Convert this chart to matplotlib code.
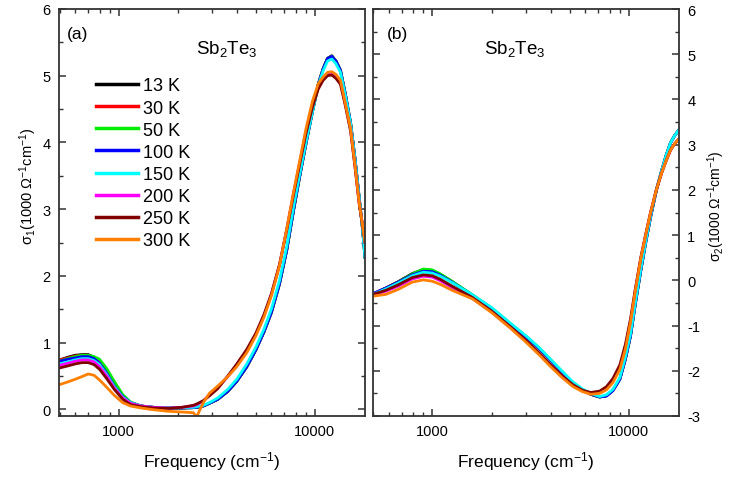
import matplotlib
matplotlib.use('Agg')
import matplotlib.pyplot as plt
from matplotlib.ticker import FixedLocator, FixedFormatter, NullFormatter, MultipleLocator

plt.rcParams['font.family'] = ['Liberation Sans', 'DejaVu Sans']
plt.rcParams['mathtext.default'] = 'regular'
plt.rcParams['axes.unicode_minus'] = False

temps = ['13 K', '30 K', '50 K', '100 K', '150 K', '200 K', '250 K', '300 K']
colors = ['#000000', '#ff0000', '#00ee00', '#0000ff', '#00ffff', '#ff00ff', '#800000', '#ff8000']

# (a) sigma_1 in 1000 Ohm^-1 cm^-1
freq_a = [500, 550, 600, 650, 700, 750, 800, 870, 950, 1050, 1150, 1300, 1500, 1800,
          2100, 2400, 2500, 2700, 2900, 3200, 3600, 4000, 4500, 5000, 5500, 6000, 6600,
          7200, 7800, 8400, 9000, 9700, 10400, 11000, 11600, 12200, 12800, 13500, 14300,
          15200, 16000, 16800, 17500, 18000]
s1_13 = [0.74, 0.78, 0.81, 0.82, 0.82, 0.78, 0.71, 0.56, 0.37, 0.20, 0.10, 0.05, 0.03, 0.02,
         0.02, 0.025, 0.03, 0.05, 0.09, 0.15, 0.27, 0.42, 0.64, 0.89, 1.16, 1.45, 1.88,
         2.40, 3.00, 3.52, 3.98, 4.45, 4.87, 5.10, 5.26, 5.30, 5.22, 5.08, 4.72,
         4.29, 3.76, 3.18, 2.70, 2.28]
s1_30 = [0.74, 0.77, 0.80, 0.81, 0.81, 0.77, 0.70, 0.55, 0.36, 0.19, 0.10, 0.05, 0.03, 0.02,
         0.02, 0.025, 0.03, 0.05, 0.09, 0.15, 0.27, 0.42, 0.64, 0.89, 1.16, 1.45, 1.88,
         2.40, 3.00, 3.52, 3.98, 4.45, 4.87, 5.10, 5.26, 5.29, 5.22, 5.08, 4.72,
         4.29, 3.76, 3.18, 2.70, 2.28]
s1_50 = [0.72, 0.76, 0.79, 0.81, 0.81, 0.79, 0.75, 0.61, 0.42, 0.22, 0.11, 0.05, 0.03, 0.02,
         0.02, 0.025, 0.03, 0.05, 0.09, 0.15, 0.27, 0.42, 0.64, 0.89, 1.16, 1.45, 1.88,
         2.40, 3.00, 3.52, 3.98, 4.45, 4.87, 5.10, 5.26, 5.29, 5.22, 5.08, 4.72,
         4.29, 3.76, 3.18, 2.70, 2.28]
s1_100 = [0.72, 0.75, 0.77, 0.79, 0.79, 0.76, 0.69, 0.54, 0.35, 0.19, 0.10, 0.05, 0.03, 0.02,
          0.02, 0.025, 0.03, 0.05, 0.09, 0.15, 0.27, 0.42, 0.64, 0.89, 1.16, 1.45, 1.88,
          2.40, 3.00, 3.52, 3.98, 4.45, 4.87, 5.10, 5.26, 5.29, 5.22, 5.08, 4.72,
          4.29, 3.76, 3.18, 2.70, 2.28]
s1_150 = [0.68, 0.71, 0.74, 0.76, 0.76, 0.73, 0.67, 0.52, 0.34, 0.18, 0.10, 0.05, 0.03, 0.025,
          0.025, 0.03, 0.04, 0.06, 0.10, 0.17, 0.30, 0.45, 0.68, 0.93, 1.20, 1.50, 1.93,
          2.45, 3.05, 3.55, 4.00, 4.45, 4.85, 5.07, 5.22, 5.25, 5.18, 5.05, 4.70,
          4.28, 3.75, 3.18, 2.70, 2.28]
s1_200 = [0.66, 0.69, 0.72, 0.74, 0.74, 0.71, 0.64, 0.50, 0.32, 0.17, 0.09, 0.05, 0.03, 0.02,
          0.03, 0.05, 0.07, 0.12, 0.22, 0.33, 0.49, 0.66, 0.88, 1.12, 1.40, 1.72, 2.16,
          2.71, 3.25, 3.72, 4.16, 4.56, 4.84, 4.96, 5.03, 5.04, 5.00, 4.90, 4.57,
          4.19, 3.65, 3.10, 2.76, 2.50]
s1_250 = [0.62, 0.65, 0.68, 0.70, 0.70, 0.67, 0.60, 0.46, 0.30, 0.15, 0.07, 0.04, 0.02, 0.015,
          0.03, 0.06, 0.08, 0.13, 0.20, 0.31, 0.50, 0.68, 0.90, 1.14, 1.42, 1.73, 2.17,
          2.70, 3.23, 3.70, 4.13, 4.52, 4.80, 4.93, 5.00, 5.01, 4.96, 4.87, 4.55,
          4.17, 3.64, 3.09, 2.75, 2.50]
s1_300 = [0.37, 0.41, 0.45, 0.49, 0.53, 0.51, 0.44, 0.33, 0.21, 0.10, 0.05, 0.02, -0.005, -0.03,
          -0.04, -0.05, -0.11, 0.10, 0.24, 0.35, 0.49, 0.64, 0.85, 1.10, 1.38, 1.70, 2.15,
          2.72, 3.27, 3.75, 4.20, 4.61, 4.88, 4.98, 5.05, 5.06, 5.02, 4.93, 4.58,
          4.20, 3.66, 3.10, 2.76, 2.50]

# (b) sigma_2 in 1000 Ohm^-1 cm^-1
freq_b = [500, 580, 670, 790, 900, 1000, 1100, 1260, 1600, 2000, 2500, 3000, 3500, 4000,
          4600, 5200, 5800, 6400, 7100, 7700, 8300, 9000, 9600, 10200, 10800, 11500,
          12200, 12900, 13800, 14700, 15500, 16300, 17100, 18000]
s2_13 = [-0.30, -0.17, -0.03, 0.15, 0.24, 0.22, 0.13, -0.03, -0.33, -0.62, -0.97, -1.25, -1.51, -1.77,
         -2.04, -2.27, -2.42, -2.52, -2.58, -2.55, -2.43, -2.18, -1.74, -1.22, -0.50, 0.22,
         0.85, 1.40, 1.99, 2.43, 2.77, 3.04, 3.20, 3.33]
s2_30 = [-0.30, -0.17, -0.04, 0.13, 0.22, 0.21, 0.12, -0.04, -0.33, -0.62, -0.97, -1.25, -1.51, -1.77,
         -2.04, -2.27, -2.42, -2.52, -2.58, -2.55, -2.43, -2.18, -1.74, -1.22, -0.50, 0.22,
         0.85, 1.40, 1.99, 2.43, 2.77, 3.04, 3.20, 3.33]
s2_50 = [-0.31, -0.18, -0.04, 0.14, 0.25, 0.23, 0.14, -0.02, -0.32, -0.61, -0.96, -1.24, -1.50, -1.76,
         -2.03, -2.27, -2.42, -2.52, -2.58, -2.55, -2.43, -2.18, -1.74, -1.22, -0.50, 0.22,
         0.85, 1.40, 1.99, 2.43, 2.77, 3.04, 3.20, 3.33]
s2_100 = [-0.29, -0.17, -0.04, 0.12, 0.20, 0.19, 0.11, -0.04, -0.33, -0.62, -0.97, -1.25, -1.51, -1.77,
          -2.04, -2.27, -2.42, -2.52, -2.58, -2.56, -2.44, -2.19, -1.75, -1.23, -0.51, 0.21,
          0.85, 1.40, 1.99, 2.43, 2.77, 3.04, 3.20, 3.33]
s2_150 = [-0.31, -0.19, -0.06, 0.10, 0.18, 0.16, 0.09, -0.05, -0.32, -0.60, -0.95, -1.23, -1.49, -1.75,
          -2.02, -2.25, -2.40, -2.50, -2.57, -2.53, -2.41, -2.15, -1.70, -1.18, -0.47, 0.25,
          0.87, 1.42, 2.00, 2.43, 2.77, 3.04, 3.20, 3.33]
s2_200 = [-0.32, -0.24, -0.13, 0.03, 0.09, 0.07, -0.01, -0.16, -0.40, -0.70, -1.05, -1.35, -1.63, -1.89,
          -2.14, -2.33, -2.45, -2.50, -2.48, -2.39, -2.22, -1.93, -1.48, -0.90, -0.20, 0.49,
          1.02, 1.50, 2.00, 2.38, 2.65, 2.88, 3.02, 3.13]
s2_250 = [-0.31, -0.22, -0.10, 0.06, 0.12, 0.10, 0.02, -0.13, -0.38, -0.68, -1.03, -1.33, -1.61, -1.87,
          -2.12, -2.31, -2.43, -2.48, -2.45, -2.35, -2.17, -1.87, -1.42, -0.85, -0.18, 0.50,
          1.03, 1.50, 2.00, 2.38, 2.65, 2.88, 3.02, 3.13]
s2_300 = [-0.35, -0.31, -0.20, -0.04, 0.01, -0.02, -0.09, -0.22, -0.41, -0.71, -1.06, -1.37, -1.65, -1.91,
          -2.16, -2.35, -2.46, -2.52, -2.50, -2.42, -2.26, -1.97, -1.52, -0.92, -0.22, 0.48,
          1.02, 1.50, 2.00, 2.38, 2.65, 2.88, 3.02, 3.13]

sigma1 = [s1_13, s1_30, s1_50, s1_100, s1_150, s1_200, s1_250, s1_300]
sigma2 = [s2_13, s2_30, s2_50, s2_100, s2_150, s2_200, s2_250, s2_300]

spine_color = '#333333'
ylabel_1 = r'$\sigma_1$(1000 $\Omega^{-1}$cm$^{-1}$)'
ylabel_2 = r'$\sigma_2$(1000 $\Omega^{-1}$cm$^{-1}$)'


def style_axes(ax):
    ax.set_xscale('log')
    ax.set_xlim(497, 18000)
    ax.xaxis.set_major_locator(FixedLocator([1000, 10000]))
    ax.xaxis.set_major_formatter(FixedFormatter(['1000', '10000']))
    ax.xaxis.set_minor_locator(FixedLocator([500, 600, 700, 800, 900, 2000, 3000, 4000,
                                             5000, 6000, 7000, 8000, 9000]))
    ax.xaxis.set_minor_formatter(NullFormatter())
    ax.yaxis.set_major_locator(MultipleLocator(1))
    ax.yaxis.set_minor_locator(MultipleLocator(0.5))
    ax.tick_params(which='both', direction='in', top=True, bottom=True, left=True,
                   right=True, color=spine_color, labelsize=10.5, pad=6)
    ax.tick_params(which='major', length=5, width=1.1)
    ax.tick_params(which='minor', length=3, width=1.0)
    for sp in ax.spines.values():
        sp.set_color(spine_color)
        sp.set_linewidth(1.3)
    ax.set_xlabel('Frequency (cm$^{-1}$)', fontsize=12.5, labelpad=8)


fig = plt.figure(figsize=(7.29, 4.81), dpi=100)
ax1 = fig.add_axes([59 / 729, 1 - 417 / 481, 306 / 729, 407 / 481])
ax2 = fig.add_axes([372.7 / 729, 1 - 417 / 481, 306.3 / 729, 407 / 481])

for ys, c, t in zip(sigma1, colors, temps):
    ax1.plot(freq_a, ys, color=c, lw=2.0, label=t)
for ys, c, t in zip(sigma2, colors, temps):
    ax2.plot(freq_b, ys, color=c, lw=2.0, label=t)

style_axes(ax1)
style_axes(ax2)
ax1.set_ylim(-0.1, 6)
ax2.set_ylim(-3, 6)

ax1.set_ylabel(ylabel_1, fontsize=10.5)
ax1.yaxis.set_label_coords(-0.065, 0.568)

ax2.yaxis.set_label_position('right')
ax2.yaxis.tick_right()
ax2.tick_params(which='both', left=True, right=True, labelleft=False, labelright=True)
ax2.set_ylabel(ylabel_2, fontsize=10, rotation=90)
ax2.yaxis.set_label_coords(1.086, 0.518)

ax1.text(0.025, 0.94, '(a)', transform=ax1.transAxes, fontsize=12.5, va='center', ha='left')
ax1.text(0.55, 0.905, r'Sb$_2$Te$_3$', transform=ax1.transAxes, fontsize=13.5,
         va='center', ha='center')
ax2.text(0.046, 0.94, '(b)', transform=ax2.transAxes, fontsize=12.5, va='center', ha='left')
ax2.text(0.465, 0.905, r'Sb$_2$Te$_3$', transform=ax2.transAxes, fontsize=13.5,
         va='center', ha='center')

leg = ax1.legend(loc='upper left', bbox_to_anchor=(0.12, 0.832), frameon=False,
                 fontsize=13, handlelength=2.33, handletextpad=0.28, labelspacing=0.285,
                 borderpad=0, borderaxespad=0)
for line in leg.get_lines():
    line.set_linewidth(2.5)

fig.savefig('out.png', dpi=100)
